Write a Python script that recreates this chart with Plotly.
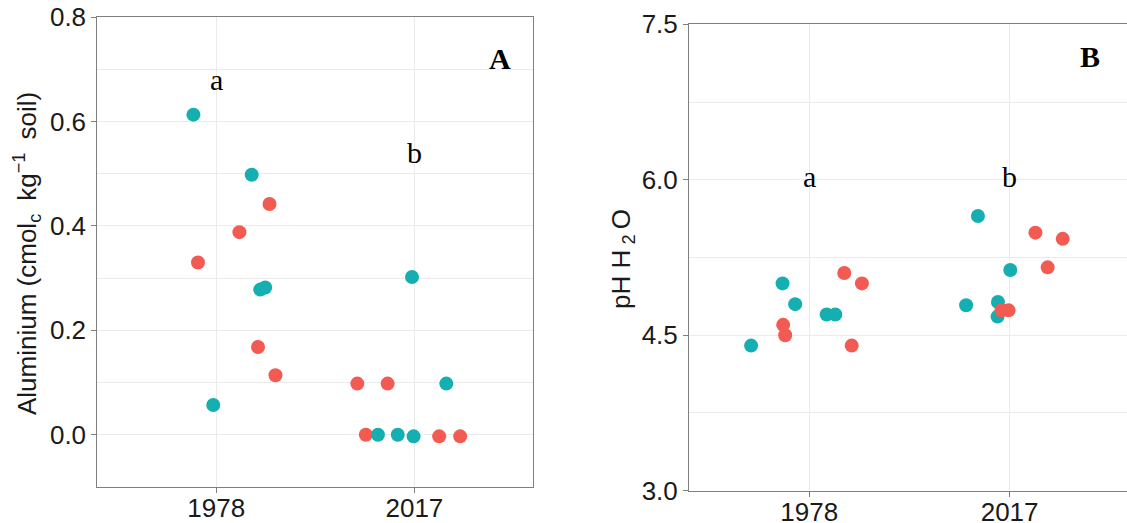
import plotly.graph_objects as go

# ---------------- data ----------------
years = ["1978", "2017"]

# Panel A: Aluminium (cmol_c kg-1 soil); jitter offsets around the year category
al_1978_teal_jit = [-0.115, 0.179, 0.222, 0.247, -0.015]
al_1978_teal_val = [0.613, 0.498, 0.278, 0.282, 0.057]
al_1978_red_jit = [0.269, 0.117, -0.092, 0.211, 0.299]
al_1978_red_val = [0.442, 0.388, 0.330, 0.168, 0.114]
al_2017_teal_jit = [-0.012, 0.161, -0.184, -0.084, -0.004]
al_2017_teal_val = [0.302, 0.098, 0.0, 0.0, -0.003]
al_2017_red_jit = [-0.288, -0.135, -0.245, 0.125, 0.231]
al_2017_red_val = [0.098, 0.098, 0.0, -0.003, -0.003]

# Panel B: pH H2O
ph_1978_teal_jit = [-0.29, -0.133, -0.07, 0.087, 0.13]
ph_1978_teal_val = [4.40, 5.00, 4.80, 4.70, 4.70]
ph_1978_red_jit = [-0.13, -0.12, 0.175, 0.263, 0.212]
ph_1978_red_val = [4.60, 4.50, 5.10, 5.00, 4.40]
ph_2017_teal_jit = [-0.158, 0.0035, -0.217, -0.058, -0.06]
ph_2017_teal_val = [5.65, 5.13, 4.79, 4.82, 4.68]
ph_2017_red_jit = [0.129, 0.265, 0.19, -0.04, -0.005]
ph_2017_red_val = [5.49, 5.43, 5.155, 4.74, 4.74]

al_letters = ["a", "b"]
al_letter_y = [0.68, 0.54]
ph_letters = ["a", "b"]
ph_letter_y = [6.03, 6.03]

TEAL = "#16AFB1"
RED = "#F35A51"
GRID = "#EBEBEB"
AXCOL = "#7F7F7F"

W, H = 1127, 523


def xs(cat_index, jit):
    return [cat_index + j for j in jit]


fig = go.Figure()


def add_pts(xa, ya, cat, jit, val, color):
    fig.add_trace(go.Scatter(
        x=xs(cat, jit), y=val, mode="markers", xaxis=xa, yaxis=ya,
        marker=dict(size=14, color=color, line=dict(width=0)),
        showlegend=False, hoverinfo="skip"))


# panel A: red first, teal on top
add_pts("x", "y", 1, al_1978_red_jit, al_1978_red_val, RED)
add_pts("x", "y", 2, al_2017_red_jit, al_2017_red_val, RED)
add_pts("x", "y", 1, al_1978_teal_jit, al_1978_teal_val, TEAL)
add_pts("x", "y", 2, al_2017_teal_jit, al_2017_teal_val, TEAL)
# panel B: teal first, red on top
add_pts("x2", "y2", 1, ph_1978_teal_jit, ph_1978_teal_val, TEAL)
add_pts("x2", "y2", 2, ph_2017_teal_jit, ph_2017_teal_val, TEAL)
add_pts("x2", "y2", 1, ph_1978_red_jit, ph_1978_red_val, RED)
add_pts("x2", "y2", 2, ph_2017_red_jit, ph_2017_red_val, RED)

tickfont = dict(family="Liberation Sans, Arial, sans-serif", size=26, color="#1a1a1a")

common_x = dict(
    tickmode="array", tickvals=[1, 2], ticktext=years,
    showgrid=True, gridcolor=GRID, gridwidth=1,
    showline=True, linecolor=AXCOL, linewidth=1,
    ticks="outside", ticklen=5, tickcolor=AXCOL, tickwidth=1,
    tickfont=tickfont, zeroline=False, automargin=False, fixedrange=True,
    ticklabelstandoff=-7,
)
common_y = dict(
    showgrid=True, gridcolor=GRID, gridwidth=1,
    showline=True, linecolor=AXCOL, linewidth=1,
    ticks="outside", ticklen=5, tickcolor=AXCOL, tickwidth=1,
    tickfont=tickfont, zeroline=False, automargin=False, fixedrange=True,
    tickformat=".1f",
)

fig.update_layout(
    width=W, height=H,
    margin=dict(l=0, r=0, t=0, b=0),
    paper_bgcolor="white", plot_bgcolor="white",
    xaxis=dict(common_x, domain=[97.3 / W, 533.3 / W], range=[0.4, 2.6],
               mirror=True, anchor="y"),
    yaxis=dict(common_y, domain=[(H - 487) / H, (H - 17) / H], range=[-0.1, 0.8],
               tickvals=[0.0, 0.2, 0.4, 0.6, 0.8], mirror=True, anchor="x",
               minor=dict(showgrid=True, gridcolor=GRID, gridwidth=1,
                          tickvals=[-0.1, 0.1, 0.3, 0.5, 0.7], ticks="")),
    xaxis2=dict(common_x, domain=[689 / W, 1.0], range=[0.4, 2.586],
                mirror=True, anchor="y2"),
    yaxis2=dict(common_y, domain=[(H - 490.7) / H, (H - 24.3) / H], range=[3.0, 7.5],
                tickvals=[3.0, 4.5, 6.0, 7.5], mirror=False, anchor="x2",
                minor=dict(showgrid=True, gridcolor=GRID, gridwidth=1,
                           tickvals=[3.75, 5.25, 6.75], ticks="")),
)

serif = "Liberation Serif, Times New Roman, serif"
ann = []
for i, (lab, yv) in enumerate(zip(al_letters, al_letter_y)):
    ann.append(dict(x=i + 1, y=yv, xref="x", yref="y", text=lab, showarrow=False,
                    font=dict(family=serif, size=30, color="black")))
for i, (lab, yv) in enumerate(zip(ph_letters, ph_letter_y)):
    ann.append(dict(x=i + 1, y=yv, xref="x2", yref="y2", text=lab, showarrow=False,
                    font=dict(family=serif, size=30, color="black")))
ann.append(dict(x=2.43, y=0.72, xref="x", yref="y", text="<b>A</b>", showarrow=False,
                font=dict(family=serif, size=30, color="black")))
ann.append(dict(x=2.40, y=7.19, xref="x2", yref="y2", text="<b>B</b>", showarrow=False,
                font=dict(family=serif, size=30, color="black")))

titlefont = dict(family="Liberation Sans, Arial, sans-serif", size=26, color="#1a1a1a")
ann.append(dict(x=27 / W, y=(H - 254) / H, xref="paper", yref="paper",
                text="Aluminium (cmol<sub>c</sub>\u2002kg<sup>\u22121</sup>\u2002soil)",
                textangle=-90,
                showarrow=False, font=titlefont, xanchor="center", yanchor="middle"))
ann.append(dict(x=622 / W, y=(H - 259) / H, xref="paper", yref="paper",
                text="pH H\u2009<sub>2</sub>\u2009O", textangle=-90,
                showarrow=False, font=titlefont, xanchor="center", yanchor="middle"))
fig.update_layout(annotations=ann)

fig.write_html(
    "out.html",
    config={"displayModeBar": False, "staticPlot": True},
    post_script="document.body.style.margin='0';document.body.style.padding='0';",
)
